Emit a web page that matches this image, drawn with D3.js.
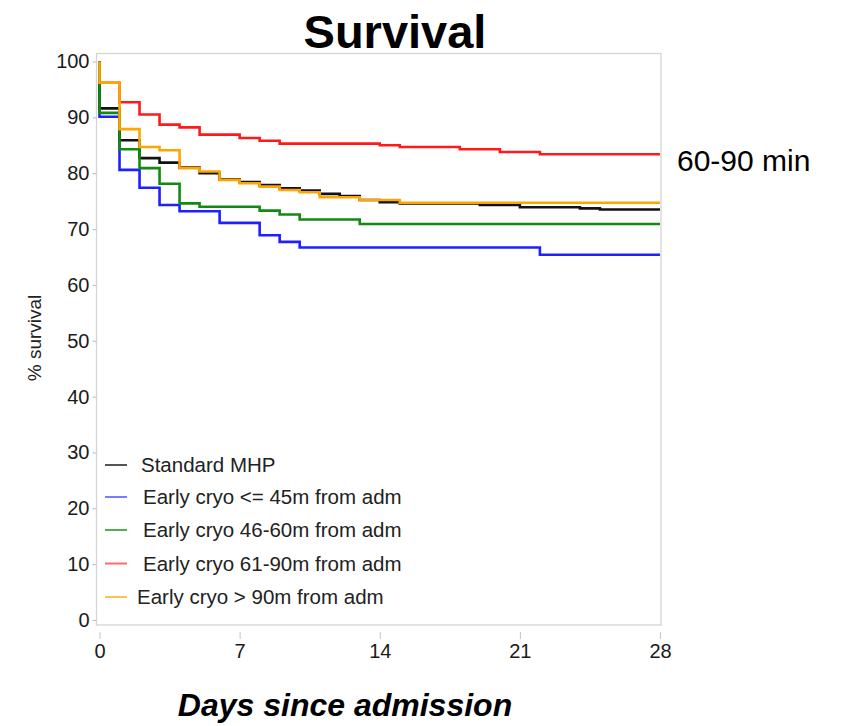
<!DOCTYPE html>
<html>
<head>
<meta charset="utf-8">
<script src="https://cdn.jsdelivr.net/npm/d3@7"></script>
<style>
  body { margin: 0; background: #fff; }
  text { font-family: "Liberation Sans", Arial, sans-serif; }
</style>
</head>
<body>
<div id="chart"></div>
<script>
// Kaplan-Meier survival curves
var seriesNames = ["Standard MHP", "Early cryo <= 45m from adm", "Early cryo 46-60m from adm",
  "Early cryo 61-90m from adm", "Early cryo > 90m from adm"];
var seriesColors = ["#111111", "#1f1fff", "#128a12", "#ff1a1a", "#ffa500"];
var legendColors = ["#555555", "#7a7aff", "#55aa55", "#ff6a6a", "#ffc04d"];

var stdDays = [0, 0, 1, 2, 3, 4, 5, 6, 7, 8, 9, 10, 11, 12, 13, 14, 15, 19, 21, 24, 25, 28];
var stdSurv = [100, 91.6, 85.9, 82.7, 81.9, 81.0, 80.0, 78.9, 78.4, 77.9, 77.3, 76.9, 76.3, 75.9, 75.2, 74.8, 74.6, 74.3, 73.9, 73.7, 73.5, 73.5];

var le45Days = [0, 0, 1, 2, 3, 4, 6, 8, 9, 10, 22, 28];
var le45Surv = [100, 90.1, 80.6, 77.4, 74.3, 73.2, 71.1, 68.9, 67.7, 66.7, 65.4, 65.4];

var m4660Days = [0, 0, 1, 2, 3, 4, 5, 8, 9, 10, 13, 28];
var m4660Surv = [100, 90.8, 84.3, 80.9, 78.1, 74.6, 74.0, 73.3, 72.6, 71.7, 70.9, 70.9];

var m6190Days = [0, 0, 1, 2, 3, 4, 5, 7, 8, 9, 14, 15, 18, 20, 22, 28];
var m6190Surv = [100, 96.2, 92.7, 90.5, 88.7, 88.2, 86.9, 86.3, 85.8, 85.3, 85.0, 84.7, 84.3, 83.8, 83.4, 83.4];

var gt90Days = [0, 0, 1, 2, 3, 4, 5, 6, 7, 8, 9, 10, 11, 13, 15, 28];
var gt90Surv = [100, 96.2, 87.9, 84.7, 84.1, 80.9, 80.3, 78.8, 78.2, 77.6, 77.0, 76.6, 75.7, 75.2, 74.7, 74.7];

var xTicks = [0, 7, 14, 21, 28];
var yTicks = [0, 10, 20, 30, 40, 50, 60, 70, 80, 90, 100];

var allDays = [stdDays, le45Days, m4660Days, m6190Days, gt90Days];
var allSurv = [stdSurv, le45Surv, m4660Surv, m6190Surv, gt90Surv];

var svgWidth = 846, svgHeight = 726;

var svg = d3.select("#chart").append("svg")
  .attr("width", svgWidth)
  .attr("height", svgHeight);

svg.append("rect").attr("width", svgWidth).attr("height", svgHeight).attr("fill", "#fff");

var xScale = d3.scaleLinear().domain([0, 28]).range([99.5, 660]);
var yScale = d3.scaleLinear().domain([0, 100]).range([620, 61.5]);

// plot frame
svg.append("rect")
  .attr("x", 96.5).attr("y", 53.5)
  .attr("width", 564.5).attr("height", 571.5)
  .attr("fill", "none")
  .attr("stroke", "#d4d4d4")
  .attr("stroke-width", 1.3);

// y axis
var yAxis = svg.append("g")
  .attr("transform", "translate(96.5,0)")
  .call(d3.axisLeft(yScale).tickValues(yTicks).tickSize(4).tickPadding(3));
yAxis.select(".domain").remove();
yAxis.selectAll("line").attr("stroke", "#bbbbbb");
yAxis.selectAll("text")
  .attr("font-family", "Liberation Sans, Arial, sans-serif")
  .attr("font-size", 20)
  .attr("fill", "#1a1a1a");

// x axis
var xAxis = svg.append("g")
  .attr("transform", "translate(0,632)")
  .call(d3.axisBottom(xScale).tickValues(xTicks).tickSize(7).tickPadding(5));
xAxis.select(".domain").remove();
xAxis.selectAll("line").attr("stroke", "#c4c4c4");
xAxis.selectAll("text")
  .attr("font-family", "Liberation Sans, Arial, sans-serif")
  .attr("font-size", 20)
  .attr("fill", "#1a1a1a");

// curves
var line = d3.line()
  .x(function(d) { return xScale(d[0]); })
  .y(function(d) { return yScale(d[1]); })
  .curve(d3.curveStepAfter);

var drawOrder = [3, 1, 0, 2, 4];
drawOrder.forEach(function(i) {
  var pts = allDays[i].map(function(t, j) { return [t, allSurv[i][j]]; });
  svg.append("path")
    .datum(pts)
    .attr("d", line)
    .attr("fill", "none")
    .attr("stroke", seriesColors[i])
    .attr("stroke-width", 2.6);
});

// legend
var legendY = [465, 497, 530, 563.5, 597];
var legendDx = [0, 2, 2, 2, -4];
seriesNames.forEach(function(name, i) {
  svg.append("line")
    .attr("x1", 105).attr("x2", 127)
    .attr("y1", legendY[i]).attr("y2", legendY[i])
    .attr("stroke", legendColors[i])
    .attr("stroke-width", 2);
  svg.append("text")
    .attr("x", 141 + legendDx[i])
    .attr("y", legendY[i])
    .attr("dy", "0.35em")
    .attr("font-size", 20.5)
    .attr("fill", "#222")
    .text(name);
});

// labels
svg.append("text")
  .attr("x", 395).attr("y", 48)
  .attr("text-anchor", "middle")
  .attr("font-size", 47)
  .attr("font-weight", "bold")
  .attr("fill", "#000")
  .text("Survival");

svg.append("text")
  .attr("x", 677).attr("y", 160)
  .attr("dy", "0.35em")
  .attr("font-size", 30)
  .attr("fill", "#000")
  .text("60-90 min");

svg.append("text")
  .attr("transform", "translate(41,338) rotate(-90)")
  .attr("text-anchor", "middle")
  .attr("font-size", 19)
  .attr("fill", "#222")
  .text("% survival");

svg.append("text")
  .attr("x", 345).attr("y", 716)
  .attr("text-anchor", "middle")
  .attr("font-family", "Lato, 'Open Sans', sans-serif")
  .attr("font-size", 32)
  .attr("font-weight", "bold")
  .attr("font-style", "italic")
  .attr("fill", "#000")
  .text("Days since admission");
</script>
</body>
</html>
